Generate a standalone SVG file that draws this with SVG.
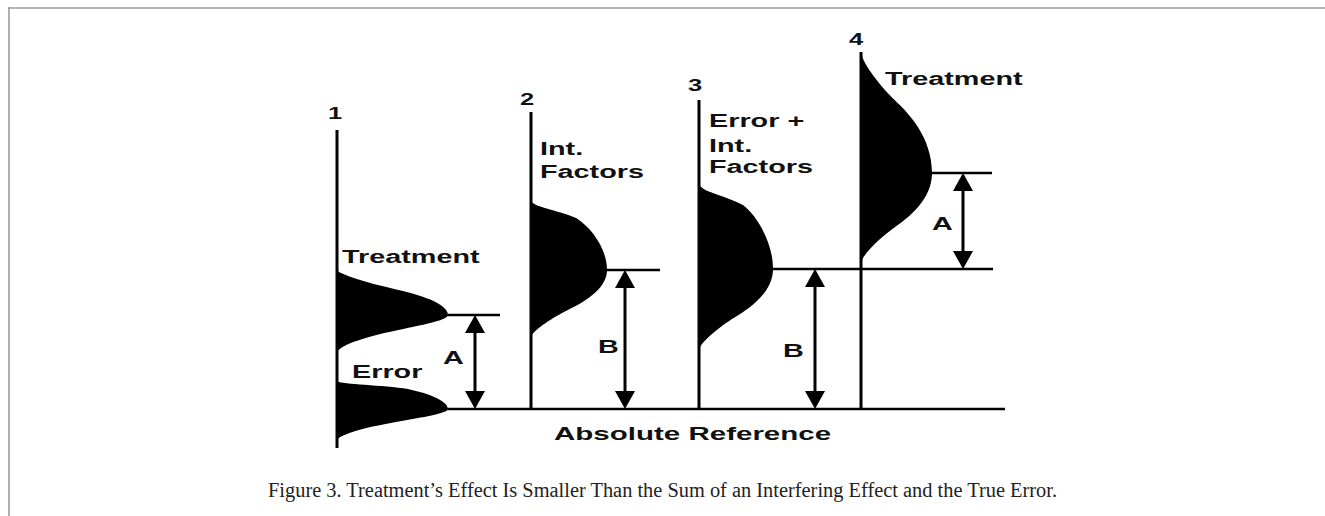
<svg xmlns="http://www.w3.org/2000/svg" width="1325" height="516" viewBox="0 0 1325 516">
  <style>
    .frame { stroke: #9c9c9c; stroke-width: 1.6; fill: none; }
    .axis { stroke: #000; stroke-width: 3; fill: none; }
    .hline { stroke: #000; stroke-width: 2.5; fill: none; }
    .shaft { stroke: #000; stroke-width: 3; fill: none; marker-start: url(#tri); marker-end: url(#tri); }
    .bell { fill: #000; stroke: none; }
    .lbl { font-family: "Liberation Sans", Arial, sans-serif; font-weight: bold; font-size: 18px; fill: #111; }
    .num { font-family: "Liberation Sans", Arial, sans-serif; font-weight: bold; font-size: 17px; fill: #111; }
    .cap { font-family: "Liberation Serif", "Times New Roman", serif; font-size: 20px; fill: #222; }
  </style>
  <defs>
    <path id="gauss" class="bell" d="M0,-1 C0.04,-0.79 0.263,-0.58 0.607,-0.37 C0.809,-0.247 1,-0.123 1,0 L1,0.02 L0,0.02 Z"/>
    <path id="fat" class="bell" d="M0,-1 C0,-0.9 0.35,-0.86 0.6,-0.74 C0.8,-0.6 1,-0.3 1,0 L1,0.02 L0,0.02 Z"/>
    <path id="mid" class="bell" d="M0,-1 C0.02,-0.9 0.3,-0.7 0.48,-0.6 C0.66,-0.5 1,-0.3 1,0 L1,0.02 L0,0.02 Z"/>
    <marker id="tri" viewBox="0 0 18 20" markerWidth="18" markerHeight="20" refX="14" refY="10" markerUnits="userSpaceOnUse" orient="auto-start-reverse">
      <path d="M0,0 L18,10 L0,20 Z" fill="#000"/>
    </marker>
  </defs>

  <rect width="1325" height="516" fill="#fff"/>

  <g id="frame">
    <line class="frame" x1="8" y1="8" x2="1325" y2="8"/>
    <line class="frame" x1="9" y1="7.2" x2="9" y2="516"/>
  </g>

  <g id="reference">
    <line class="hline" x1="448" y1="409" x2="1005" y2="409"/>
    <text class="lbl" transform="translate(554,440) scale(1.64,1)">Absolute Reference</text>
  </g>

  <g id="col1">
    <use href="#mid" transform="translate(337,315) scale(111,45)"/>
    <use href="#gauss" transform="translate(337,315) scale(111,-37)"/>
    <use href="#fat" transform="translate(337,409) scale(111,28)"/>
    <use href="#gauss" transform="translate(337,409) scale(111,-31)"/>
    <line class="axis" x1="337" y1="130" x2="337" y2="448"/>
    <text class="num" transform="translate(328,119) scale(1.5,1)">1</text>
    <text class="lbl" transform="translate(342,263) scale(1.6,1)">Treatment</text>
    <text class="lbl" transform="translate(352,378) scale(1.6,1)">Error</text>
  </g>

  <g id="col2">
    <use href="#fat" transform="translate(531,270) scale(76,70)"/>
    <use href="#mid" transform="translate(531,270) scale(76,-67)"/>
    <line class="axis" x1="531" y1="112" x2="531" y2="410"/>
    <text class="num" transform="translate(520,105) scale(1.5,1)">2</text>
    <text class="lbl" transform="translate(540,155) scale(1.6,1)">Int.</text>
    <text class="lbl" transform="translate(540,178) scale(1.6,1)">Factors</text>
  </g>

  <g id="col3">
    <use href="#fat" transform="translate(699,269) scale(74,86)"/>
    <use href="#mid" transform="translate(699,269) scale(74,-81)"/>
    <line class="axis" x1="699" y1="100" x2="699" y2="410"/>
    <text class="num" transform="translate(688,91) scale(1.5,1)">3</text>
    <text class="lbl" transform="translate(709,127) scale(1.6,1)">Error +</text>
    <text class="lbl" transform="translate(709,152) scale(1.6,1)">Int.</text>
    <text class="lbl" transform="translate(709,173) scale(1.6,1)">Factors</text>
  </g>

  <g id="col4">
    <use href="#mid" transform="translate(861,173) scale(71,121)"/>
    <use href="#mid" transform="translate(861,173) scale(71,-90)"/>
    <line class="axis" x1="861" y1="52" x2="861" y2="410"/>
    <text class="num" transform="translate(849,45) scale(1.5,1)">4</text>
    <text class="lbl" transform="translate(885,85) scale(1.6,1)">Treatment</text>
  </g>

  <g id="connectors">
    <line class="hline" x1="448" y1="315" x2="500" y2="315"/>
    <line class="hline" x1="607" y1="270" x2="660" y2="270"/>
    <line class="hline" x1="773" y1="269" x2="993" y2="269"/>
    <line class="hline" x1="932" y1="173" x2="992" y2="173"/>
    <line class="shaft" x1="475" y1="319" x2="475" y2="405"/>
    <line class="shaft" x1="625" y1="274" x2="625" y2="405"/>
    <line class="shaft" x1="815" y1="273" x2="815" y2="405"/>
    <line class="shaft" x1="963" y1="177" x2="963" y2="265"/>
    <text class="lbl" transform="translate(443,364) scale(1.6,1)">A</text>
    <text class="lbl" transform="translate(598,353) scale(1.6,1)">B</text>
    <text class="lbl" transform="translate(783,357) scale(1.6,1)">B</text>
    <text class="lbl" transform="translate(932,230) scale(1.6,1)">A</text>
  </g>

  <g id="caption">
    <text class="cap" x="268" y="497" textLength="789" lengthAdjust="spacingAndGlyphs">Figure 3. Treatment’s Effect Is Smaller Than the Sum of an Interfering Effect and the True Error.</text>
  </g>
</svg>
